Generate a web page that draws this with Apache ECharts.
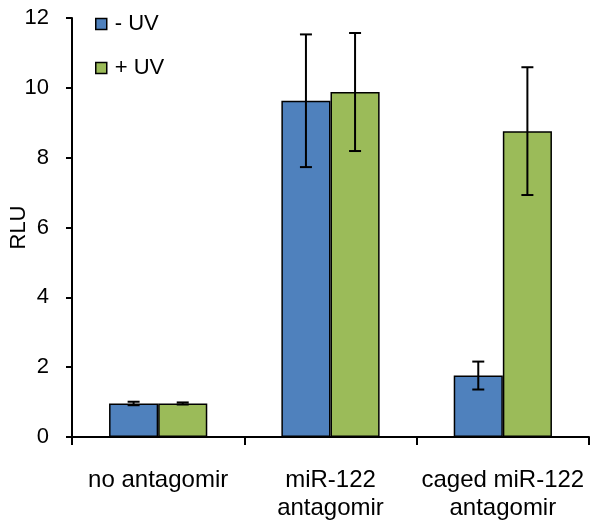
<!DOCTYPE html>
<html>
<head>
<meta charset="utf-8">
<script src="https://cdn.jsdelivr.net/npm/echarts@6/dist/echarts.min.js"></script>
<style>html,body{margin:0;padding:0;background:#fff}#c{width:602px;height:531px}</style>
</head>
<body>
<div id="c"></div>
<script>
const categories = ['no antagomir', 'miR-122\nantagomir', 'caged miR-122\nantagomir'];
const seriesNames = ['- UV', '+ UV'];
const minusUV = [0.96, 9.63, 1.76];
const minusUVErr = [0.05, 1.9, 0.4];
const plusUV = [0.96, 9.88, 8.76];
const plusUVErr = [0.03, 1.69, 1.83];
const yTicks = { min: 0, max: 12, interval: 2 };

const colors = ['#4F81BD', '#9BBB59'];
const catGap = 0.43;
const font = 'Liberation Sans, Arial, sans-serif';

function errSeries(vals, errs, idx) {
  return {
    type: 'custom',
    z: 10,
    silent: true,
    data: vals.map((v, i) => [i, v, errs[i]]),
    renderItem: function (params, api) {
      const i = api.value(0), v = api.value(1), e = api.value(2);
      const band = api.size([1, 0])[0];
      const bw = band * (1 - catGap) / 2;
      const off = idx === 0 ? -bw / 2 : bw / 2;
      const top = api.coord([i, v + e]);
      const bot = api.coord([i, v - e]);
      const x = top[0] + off;
      const cap = 6;
      const st = { stroke: '#000', lineWidth: 2 };
      return {
        type: 'group',
        children: [
          { type: 'line', shape: { x1: x, y1: top[1], x2: x, y2: bot[1] }, style: st },
          { type: 'line', shape: { x1: x - cap, y1: top[1], x2: x + cap, y2: top[1] }, style: st },
          { type: 'line', shape: { x1: x - cap, y1: bot[1], x2: x + cap, y2: bot[1] }, style: st }
        ]
      };
    },
    encode: { x: 0, y: 1 }
  };
}

const chart = echarts.init(document.getElementById('c'), null, { renderer: 'canvas' });
chart.setOption({
  animation: false,
  textStyle: { fontFamily: font },
  grid: { left: 72, right: 13, top: 18, bottom: 94, containLabel: false, outerBoundsMode: 'none' },
  legend: {
    orient: 'vertical',
    left: 95,
    top: 13,
    padding: 0,
    icon: 'rect',
    itemWidth: 11,
    itemHeight: 11,
    itemGap: 22,
    data: seriesNames,
    itemStyle: { borderColor: '#000', borderWidth: 1.5 },
    textStyle: { fontSize: 22, color: '#000', fontFamily: font, padding: [0, 0, 0, 3] }
  },
  xAxis: {
    type: 'category',
    data: categories,
    axisLine: { lineStyle: { color: '#000', width: 2 } },
    axisTick: { show: true, length: 8, lineStyle: { color: '#000', width: 2 } },
    axisLabel: { color: '#000', fontSize: 24, lineHeight: 28, margin: 29, fontFamily: font, interval: 0 }
  },
  yAxis: {
    type: 'value',
    min: yTicks.min, max: yTicks.max, interval: yTicks.interval,
    name: 'RLU',
    nameLocation: 'middle',
    nameGap: 42,
    nameMoveOverlap: false,
    nameTextStyle: { color: '#000', fontSize: 22, fontFamily: font },
    axisLine: { show: true, lineStyle: { color: '#000', width: 2 } },
    axisTick: { show: true, length: 6, lineStyle: { color: '#000', width: 2 } },
    splitLine: { show: false },
    axisLabel: { color: '#000', fontSize: 22, margin: 23, fontFamily: font }
  },
  series: [
    {
      name: seriesNames[0], type: 'bar', data: minusUV, barGap: '0%', barCategoryGap: (catGap * 100) + '%',
      itemStyle: { color: colors[0], borderColor: '#000', borderWidth: 1.5 }
    },
    {
      name: seriesNames[1], type: 'bar', data: plusUV, barGap: '0%', barCategoryGap: (catGap * 100) + '%',
      itemStyle: { color: colors[1], borderColor: '#000', borderWidth: 1.5 }
    },
    errSeries(minusUV, minusUVErr, 0),
    errSeries(plusUV, plusUVErr, 1)
  ]
});
</script>
</body>
</html>
